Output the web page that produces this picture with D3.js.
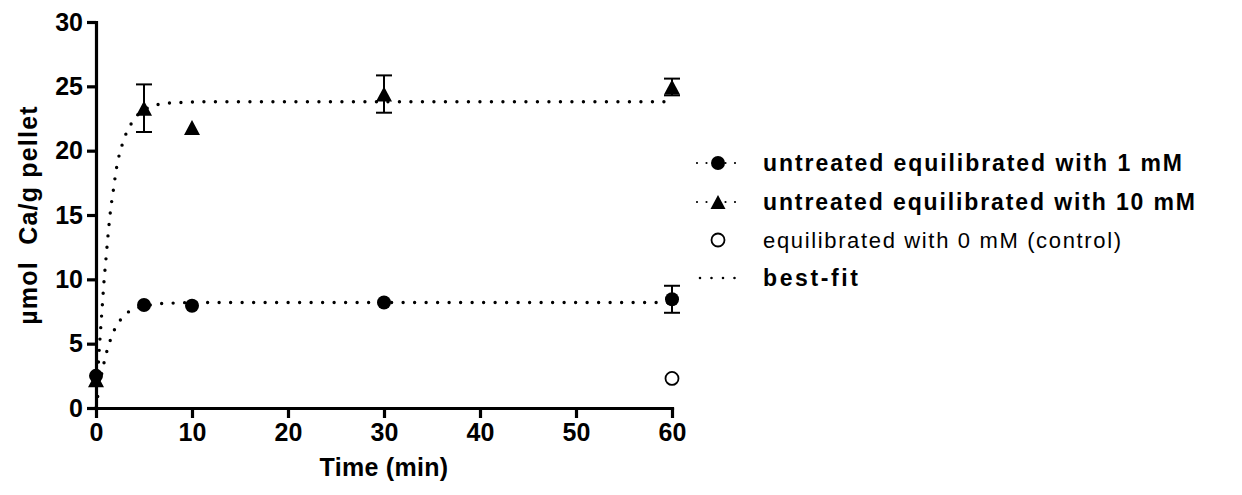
<!DOCTYPE html>
<html>
<head>
<meta charset="utf-8">
<script src="https://cdn.jsdelivr.net/npm/d3@7"></script>
<style>
  body { margin: 0; background: #fff; }
  svg { font-family: "Liberation Sans", Arial, sans-serif; }
</style>
</head>
<body>
<svg></svg>
<script>
const width = 1242;
const height = 495;

// measured points (min, umol Ca/g pellet)
const times = [0, 5, 10, 30, 60];
const mean1mM = [2.5, 8.0, 7.95, 8.2, 8.45];
const err1mM = [0, 0, 0, 0, 1.05];
const mean10mM = [2.2, 23.3, 21.8, 24.4, 24.95];
const err10mM = [0, 1.85, 0, 1.45, 0.65];
const controlTimes = [60];
const controlMean = [2.3];

// best-fit curves
const fitTimes1mM = [0, 0.24, 0.5, 0.83, 1.11, 1.46, 1.87, 2.5, 3.35, 4.2, 5, 6.5, 8, 10, 60];
const fitValues1mM = [0, 1.2, 2.3, 3.5, 4.35, 5.2, 6.0, 6.8, 7.45, 7.75, 7.9, 8.1, 8.15, 8.2, 8.2];
const fitTimes10mM = [0, 0.25, 0.49, 0.66, 0.83, 1.04, 1.25, 1.49, 1.81, 2.15, 2.74, 3.72, 4.5, 5.5, 7, 9, 12, 60];
const fitValues10mM = [0, 3.5, 6.2, 8.0, 9.8, 11.6, 13.4, 15.2, 16.95, 18.7, 20.5, 22.16, 22.9, 23.35, 23.65, 23.75, 23.8, 23.8];

const xTicks = [0, 10, 20, 30, 40, 50, 60];
const yTicks = [0, 5, 10, 15, 20, 25, 30];

const legendLabels = [
  "untreated equilibrated with 1 mM",
  "untreated equilibrated with 10 mM",
  "equilibrated with 0 mM (control)",
  "best-fit"
];

const svg = d3.select("svg").attr("width", width).attr("height", height);

const xScale = d3.scaleLinear().domain([0, 60]).range([96, 672]);
const yScale = d3.scaleLinear().domain([0, 30]).range([408, 22]);

const dotted = "0 11.5";
const triangle = "M0,-7.5L8,7.5L-8,7.5Z";

// fit lines
const line = d3.line()
  .x((d) => xScale(d[0]))
  .y((d) => yScale(d[1]))
  .curve(d3.curveMonotoneX);

[[fitTimes1mM, fitValues1mM], [fitTimes10mM, fitValues10mM]].forEach(([ts, vs]) => {
  svg.append("path")
    .datum(ts.map((t, i) => [t, vs[i]]))
    .attr("d", line)
    .attr("fill", "none")
    .attr("stroke", "#000")
    .attr("stroke-width", 3.4)
    .attr("stroke-linecap", "round")
    .attr("stroke-dasharray", dotted);
});

// axes
const xAxis = d3.axisBottom(xScale).tickValues(xTicks).tickSize(10).tickSizeOuter(0).tickPadding(5);
const yAxis = d3.axisLeft(yScale).tickValues(yTicks).tickSize(9).tickSizeOuter(0).tickPadding(4);

const gx = svg.append("g").attr("transform", `translate(0, ${yScale(0)})`).call(xAxis);
const gy = svg.append("g").attr("transform", `translate(${xScale(0)}, 0)`).call(yAxis);

[gx, gy].forEach((g) => {
  g.select(".domain").attr("stroke-width", 3.2).attr("stroke-linecap", "square");
  g.selectAll(".tick line").attr("stroke-width", 3.2);
  g.selectAll(".tick text")
    .attr("fill", "#000")
    .style("font-size", "25px")
    .style("font-weight", "bold");
});

svg.append("text")
  .attr("x", (xScale(0) + xScale(60)) / 2)
  .attr("y", 476)
  .attr("text-anchor", "middle")
  .style("font-size", "25px")
  .style("font-weight", "bold")
  .style("letter-spacing", "0.3px")
  .text("Time (min)");

svg.append("text")
  .attr("transform", `translate(37, ${(yScale(0) + yScale(30)) / 2}) rotate(-90)`)
  .attr("text-anchor", "middle")
  .style("font-size", "25px")
  .style("font-weight", "bold")
  .style("letter-spacing", "1.2px")
  .style("white-space", "pre")
  .text("\u00b5mol  Ca/g pellet");

// error bars
function errorBars(means, errs) {
  const g = svg.append("g").attr("stroke", "#000").attr("stroke-width", 2);
  times.forEach((t, i) => {
    if (!errs[i]) return;
    const x = xScale(t);
    const y0 = yScale(means[i] - errs[i]);
    const y1 = yScale(means[i] + errs[i]);
    g.append("line").attr("x1", x).attr("x2", x).attr("y1", y0).attr("y2", y1);
    g.append("line").attr("x1", x - 8).attr("x2", x + 8).attr("y1", y0).attr("y2", y0);
    g.append("line").attr("x1", x - 8).attr("x2", x + 8).attr("y1", y1).attr("y2", y1);
  });
}
errorBars(mean10mM, err10mM);
errorBars(mean1mM, err1mM);

// markers
svg.append("g").selectAll("path")
  .data(times)
  .join("path")
  .attr("d", triangle)
  .attr("transform", (t, i) => `translate(${xScale(t)}, ${yScale(mean10mM[i])})`)
  .attr("fill", "#000");

svg.append("g").selectAll("circle")
  .data(times)
  .join("circle")
  .attr("cx", (t) => xScale(t))
  .attr("cy", (t, i) => yScale(mean1mM[i]))
  .attr("r", 7)
  .attr("fill", "#000");

svg.append("g").selectAll("circle")
  .data(controlTimes)
  .join("circle")
  .attr("cx", (t) => xScale(t))
  .attr("cy", (t, i) => yScale(controlMean[i]))
  .attr("r", 6.5)
  .attr("fill", "#fff")
  .attr("stroke", "#000")
  .attr("stroke-width", 1.8);

// legend
const legendRows = [163, 202, 240, 278];
const legendWidths = [419, 432, 358, 95];
const legend = svg.append("g");

legendRows.forEach((y, i) => {
  if (i !== 2) {
    legend.append("line")
      .attr("x1", i === 3 ? 700 : 697)
      .attr("x2", 738)
      .attr("y1", y).attr("y2", y)
      .attr("stroke", "#000")
      .attr("stroke-width", i === 3 ? 2.6 : 2.2)
      .attr("stroke-linecap", "round")
      .attr("stroke-dasharray", i === 3 ? dotted : "0 9.5");
  }
  if (i === 0) {
    legend.append("circle").attr("cx", 718).attr("cy", y).attr("r", 7).attr("fill", "#000");
  } else if (i === 1) {
    legend.append("path").attr("d", "M0,-7L7.5,7L-7.5,7Z").attr("transform", `translate(718, ${y})`).attr("fill", "#000");
  } else if (i === 2) {
    legend.append("circle").attr("cx", 718).attr("cy", y).attr("r", 6.5)
      .attr("fill", "#fff").attr("stroke", "#000").attr("stroke-width", 1.8);
  }
  legend.append("text")
    .attr("x", 763)
    .attr("y", y)
    .attr("dy", "0.36em")
    .attr("textLength", legendWidths[i])
    .attr("lengthAdjust", "spacing")
    .style("font-size", i === 2 ? "22px" : "23px")
    .style("font-weight", i === 2 ? "normal" : "bold")
    .text(legendLabels[i]);
});
</script>
</body>
</html>
